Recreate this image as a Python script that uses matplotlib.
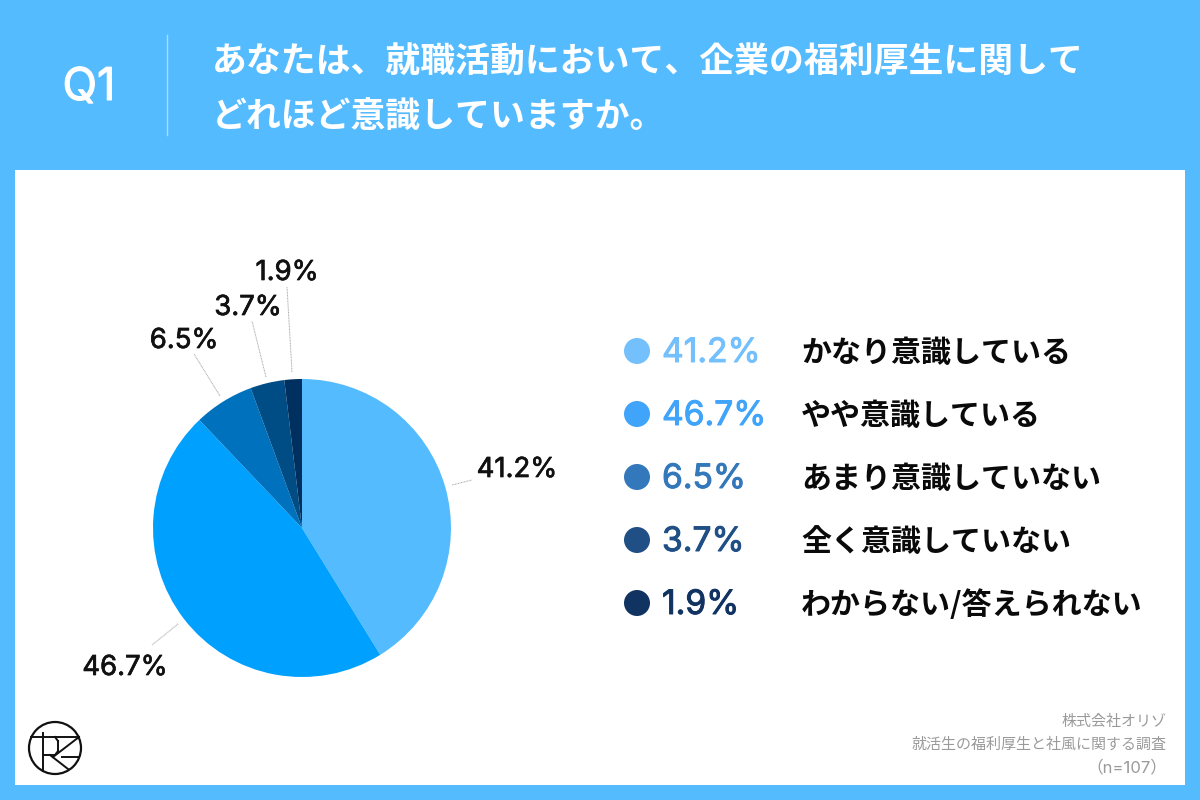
import numpy as np
import matplotlib
matplotlib.use('Agg')
import matplotlib.pyplot as plt
import matplotlib.patheffects as pe
from matplotlib.patches import Rectangle, Circle

plt.rcParams['font.family'] = ['Noto Sans CJK JP', 'DejaVu Sans']

values = [41.2, 46.7, 6.5, 3.7, 1.9]
pct_labels = ['41.2%', '46.7%', '6.5%', '3.7%', '1.9%']
categories = ['かなり意識している', 'やや意識している', 'あまり意識していない', '全く意識していない', 'わからない/答えられない']
pie_colors = ['#55BBFF', '#00A0FF', '#0071BC', '#004C85', '#00305F']
legend_colors = ['#73C0FD', '#40A4FB', '#3378BA', '#1F4F85', '#113362']
title_lines = ['あなたは、就職活動において、企業の福利厚生に関して', 'どれほど意識していますか。']
footer_lines = ['株式会社オリゾ', '就活生の福利厚生と社風に関する調査', '（n=107）']
footer_sizes = [10.8, 10.8, 12]

BG = '#55BBFF'

def heavier(col, w=0.5):
    # Inter only comes in regular here, a thin stroke gets it closer to medium
    return [pe.withStroke(linewidth=w, foreground=col)]

fig = plt.figure(figsize=(12, 8), dpi=100, facecolor=BG)

# full figure axes in pixel coords for the card and all the text
ax = fig.add_axes([0, 0, 1, 1])
ax.set_xlim(0, 1200)
ax.set_ylim(800, 0)
ax.axis('off')

ax.add_patch(Rectangle((15, 170), 1170, 615, facecolor='white', edgecolor='none'))
ax.plot([167, 167], [35, 135], color='#A9DCFF', lw=1)

ax.text(89, 88, 'Q1', color='white', fontsize=32.5, fontfamily='Inter',
        ha='center', va='center', path_effects=heavier('white', 0.8))
for line, y in zip(title_lines, [62, 116]):
    ax.text(212, y, line, color='white', fontsize=25.1, fontweight='bold', ha='left', va='center')

# pie
ax_pie = fig.add_axes([153 / 1200, (800 - 677) / 800, 298 / 1200, 298 / 800])
ax_pie.pie(values, colors=pie_colors, startangle=90, counterclock=False, radius=1,
           wedgeprops={'linewidth': 0})
ax_pie.set_xlim(-1, 1)
ax_pie.set_ylim(-1, 1)

# pie labels with leader lines
label_pos = [(517, 470), (125, 668), (184, 341), (248, 308), (287, 273)]
leader_lines = [((452, 485), (472, 480)), ((178, 624), (152, 645)), ((220, 396), (194, 354)),
                ((266, 377), (252, 321)), ((292, 372), (287, 287))]
for lab, (x, y), (p0, p1) in zip(pct_labels, label_pos, leader_lines):
    ax.text(x, y, lab, color='#111111', fontsize=19.8, fontfamily='Inter', ha='center', va='center',
            path_effects=heavier('#111111'))
    ax.plot([p0[0], p1[0]], [p0[1], p1[1]], color='#AAAAAA', lw=0.7, ls=(0, (1, 0.6)))

# legend rows
rows_y = [351, 414, 477, 540, 603]
for y, col, pct, cat in zip(rows_y, legend_colors, pct_labels, categories):
    ax.add_patch(Circle((637, y), 13, facecolor=col, edgecolor='none'))
    ax.text(662, y + 2, pct, color=col, fontsize=24.2, fontfamily='Inter', ha='left', va='center',
            path_effects=heavier(col, 0.7))
    ax.text(801, y + 2, cat, color='#0A0A0A', fontsize=21.6, fontweight='bold', ha='left', va='center')

# footer
for line, y, size in zip(footer_lines, [722, 745, 767], footer_sizes):
    ax.text(1167, y, line, color='#9A9A9A', fontsize=size, fontfamily=['Inter', 'Noto Sans CJK JP'],
            ha='right', va='center')

# logo
ax.add_patch(Circle((55, 748), 26, facecolor='none', edgecolor='#111111', lw=1.6))
logo_segments = [
    ((31, 737), (79, 737)), ((43, 733), (43, 771)),
    ((43, 755), (55, 755)), ((55, 737), (58, 741)), ((58, 741), (58, 751)), ((58, 751), (55, 755)),
    ((50, 755), (68, 769)), ((79, 737), (53, 757)), ((62, 757), (79, 757)),
]
for p0, p1 in logo_segments:
    ax.plot([p0[0], p1[0]], [p0[1], p1[1]], color='#111111', lw=1.4)

fig.savefig('out.png', dpi=100, facecolor=BG)
